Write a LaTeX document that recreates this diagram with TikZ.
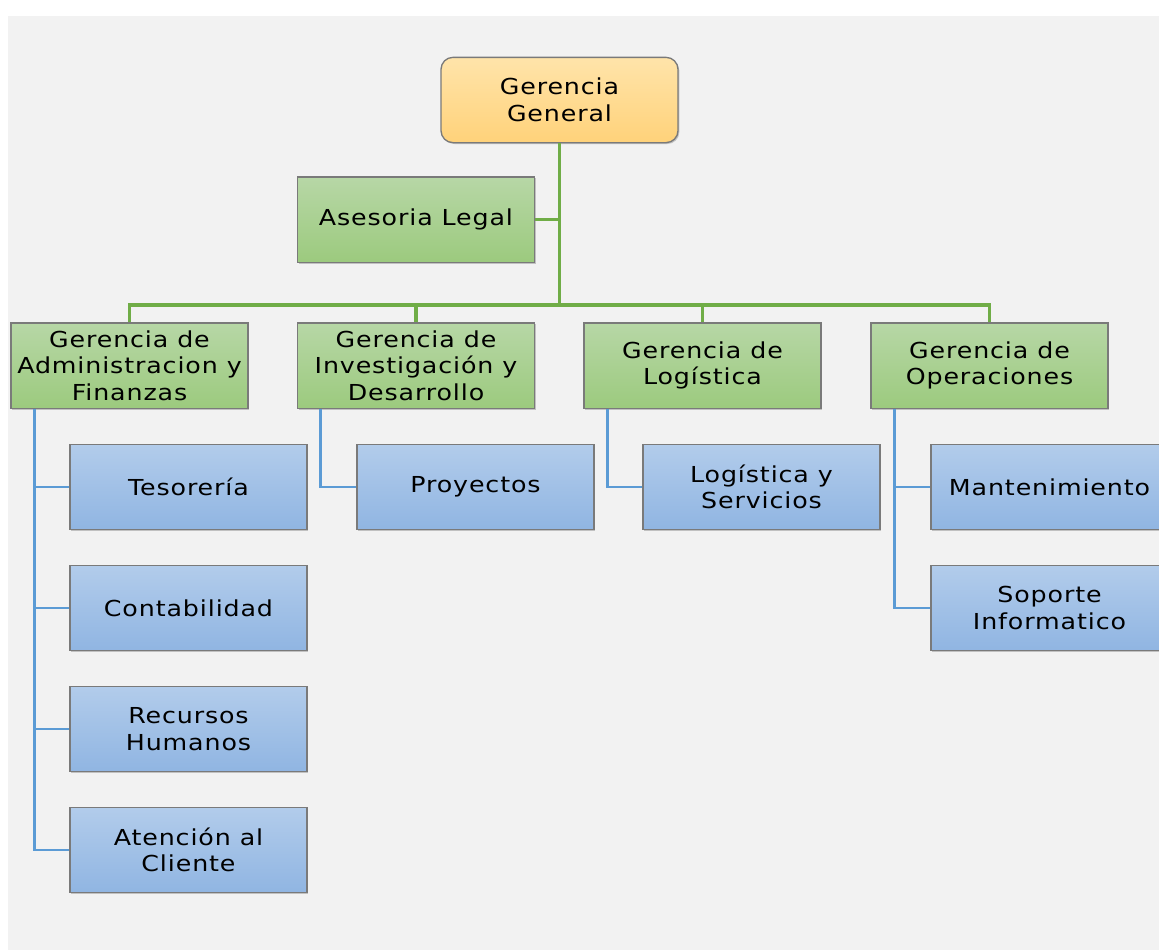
\documentclass[tikz,border=0pt]{standalone}
\usepackage{fontspec}
\setmainfont{DejaVu Sans}[FakeStretch=1.15, LetterSpace=4]
\usetikzlibrary{calc,shadows}
\definecolor{pagebg}{HTML}{F2F2F2}
\definecolor{boxline}{HTML}{7A7A7A}
\definecolor{greentop}{HTML}{B7D7A6}
\definecolor{greenbot}{HTML}{9CCA7E}
\definecolor{bluetop}{HTML}{B2CCEB}
\definecolor{bluebot}{HTML}{90B5E2}
\definecolor{orangetop}{HTML}{FFE4AA}
\definecolor{orangebot}{HTML}{FFD27A}
\definecolor{greenwire}{HTML}{70AD47}
\definecolor{bluewire}{HTML}{5B9BD5}
\tikzset{
  unitbox/.style={draw=boxline, line width=1pt, minimum width=177.75pt, minimum height=64pt,
    inner sep=1pt, align=center, font=\fontsize{16.5}{20}\selectfont,
    drop shadow={shadow xshift=1pt, shadow yshift=-1pt, opacity=0.35, fill=black!60}},
  topbox/.style={unitbox, rounded corners=9pt, top color=orangetop, bottom color=orangebot},
  greenbox/.style={unitbox, top color=greentop, bottom color=greenbot},
  bluebox/.style={unitbox, top color=bluetop, bottom color=bluebot},
  greenlink/.style={draw=greenwire, line width=2.3pt},
  bluelink/.style={draw=bluewire, line width=2.2pt},
}
\begin{document}
\begin{tikzpicture}[x=0.75pt, y=-0.75pt]
  \useasboundingbox (0,0) rectangle (1159,950);
  \clip (0,0) rectangle (1159,950);
  \fill[white] (0,0) rectangle (1159,950);
  \fill[pagebg] (8,16) rectangle (1159,950);

  % head and advisory unit
  \node[topbox]   (gg) at (559.5,100)   {Gerencia\\General};
  \node[greenbox] (al) at (416,219.5)   {Asesoria Legal};

  % management units
  \node[greenbox] (adm) at (129.5,365.5) {Gerencia de\\Administracion y\\Finanzas};
  \node[greenbox] (inv) at (416,365.5)   {Gerencia de\\Investigación y\\Desarrollo};
  \node[greenbox] (log) at (702.5,365.5) {Gerencia de\\Logística};
  \node[greenbox] (ope) at (989.5,365.5) {Gerencia de\\Operaciones};

  % departments
  \node[bluebox] (tes) at (188.5,487) {Tesorería};
  \node[bluebox] (con) at (188.5,608) {Contabilidad};
  \node[bluebox] (rh)  at (188.5,729) {Recursos\\Humanos};
  \node[bluebox] (ate) at (188.5,850) {Atención al\\Cliente};
  \node[bluebox] (pro) at (475.5,487) {Proyectos\vphantom{Tg}};
  \node[bluebox] (lys) at (761.5,487) {Logística y\\Servicios};
  \node[bluebox] (man) at (1049.5,487) {Mantenimiento};
  \node[bluebox] (sop) at (1049.5,608) {Soporte\\Informatico};

  % green wiring from the head
  \coordinate (bus) at (559.5,305);
  \draw[greenlink] (gg.south) -- (gg.south |- bus);
  \draw[greenlink] (al.east) -- (al.east -| gg.south);
  \draw[greenlink] (adm.north) -- (adm.north |- bus) -- (ope.north |- bus) -- (ope.north);
  \draw[greenlink] (inv.north) -- (inv.north |- bus);
  \draw[greenlink] (log.north) -- (log.north |- bus);

  % blue wiring to departments
  \foreach \c in {tes,con,rh,ate}
    \draw[bluelink] ($(adm.south west)+(24,0)$) |- (\c.west);
  \draw[bluelink] ($(inv.south west)+(24,0)$) |- (pro.west);
  \draw[bluelink] ($(log.south west)+(24,0)$) |- (lys.west);
  \foreach \c in {man,sop}
    \draw[bluelink] ($(ope.south west)+(24,0)$) |- (\c.west);
\end{tikzpicture}
\end{document}
